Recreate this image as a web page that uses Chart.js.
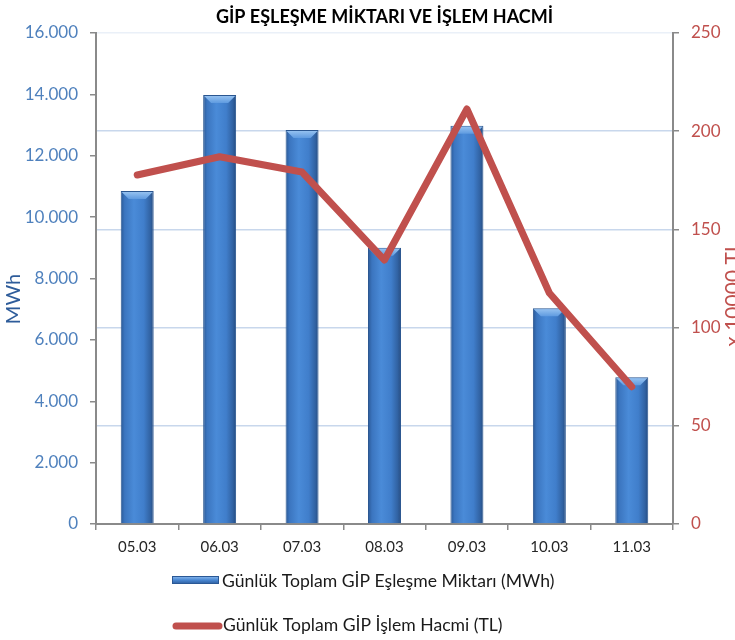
<!DOCTYPE html>
<html><head><meta charset="utf-8">
<script src="https://cdn.jsdelivr.net/npm/chart.js@4.4.1/dist/chart.umd.min.js"></script>
<style>html,body{margin:0;padding:0;background:#fff;} canvas{display:block;}</style>
</head><body>
<canvas id="c" width="735" height="640"></canvas>
<script>
// ---- data ----
const categories = ['05.03', '06.03', '07.03', '08.03', '09.03', '10.03', '11.03'];
const matchedVolumeMWh = [10850, 13980, 12840, 9000, 12980, 7030, 4780];
const tradeVolumeTL10k = [177.7, 187.0, 179.2, 134.4, 211.3, 117.6, 69.9];
const leftTickLabels = ['0', '2.000', '4.000', '6.000', '8.000', '10.000', '12.000', '14.000', '16.000'];
const rightTickLabels = ['0', '50', '100', '150', '200', '250'];
const seriesLabels = ['Günlük Toplam GİP Eşleşme Miktarı (MWh)', 'Günlük Toplam GİP İşlem Hacmi (TL)'];
const chartTitle = 'GİP EŞLEŞME MİKTARI VE İŞLEM HACMİ';
const leftAxisTitle = 'MWh';
const rightAxisTitle = 'x 10000 TL';

// ---- styles ----
const FONT = 'Lato, "Open Sans", sans-serif';
const BLUE_TICK = '#4F81BD';
const BLUE_TITLE = '#2E5C9A';
const RED = '#C0504D';
const AXIS_GREY = '#8a8a8a';
const GRID_BLUE = '#c8d7ec';

Chart.defaults.font.family = FONT;

function barGradient(ctx) {
  const chart = ctx.chart;
  if (ctx.type !== 'data' || !chart.chartArea) return '#3f78c2';
  const xs = chart.scales.x;
  const cx = xs.getPixelForValue(ctx.dataIndex);
  const half = (xs.width / categories.length) * 0.4 / 2;
  const g = chart.ctx.createLinearGradient(cx - half, 0, cx + half, 0);
  g.addColorStop(0, '#2a5895');
  g.addColorStop(0.12, '#3b75bf');
  g.addColorStop(0.4, '#4a8bd8');
  g.addColorStop(0.7, '#407ecb');
  g.addColorStop(0.9, '#3162a2');
  g.addColorStop(1, '#244b80');
  return g;
}

// bevel highlight on bar tops, using element geometry from the library
const bevelPlugin = {
  id: 'bevel',
  afterDatasetDraw(chart, args) {
    if (args.index !== 0) return;
    const c = chart.ctx;
    args.meta.data.forEach(el => {
      const p = el.getProps(['x', 'y', 'width', 'base'], true);
      const l = p.x - p.width / 2, r = p.x + p.width / 2, t = p.y;
      const d = Math.min(8, p.width / 4);
      c.save();
      const g = c.createLinearGradient(0, t, 0, t + d);
      g.addColorStop(0, '#9cc6f2');
      g.addColorStop(1, '#5f9be0');
      c.fillStyle = g;
      c.beginPath();
      c.moveTo(l + 1, t + 1); c.lineTo(r - 1, t + 1); c.lineTo(r - d, t + d); c.lineTo(l + d, t + d); c.closePath();
      c.fill();
      c.restore();
    });
  }
};

// axis titles + legend drawn as canvas text
const decoPlugin = {
  id: 'deco',
  afterDraw(chart) {
    const c = chart.ctx;
    const a = chart.chartArea;
    c.save();
    c.font = '20px ' + FONT;
    c.fillStyle = BLUE_TITLE;
    c.textAlign = 'center';
    c.textBaseline = 'middle';
    c.translate(14, 299);
    c.rotate(-Math.PI / 2);
    c.fillText(leftAxisTitle, 0, 0);
    c.restore();

    c.save();
    c.font = '21px ' + FONT;
    c.fillStyle = RED;
    c.textAlign = 'center';
    c.textBaseline = 'alphabetic';
    c.translate(740, 294);
    c.rotate(-Math.PI / 2);
    c.fillText(rightAxisTitle, 0, 0);
    c.restore();

    // legend
    const lx = a.left + 76;
    const y1 = a.bottom + 56;
    const y2 = a.bottom + 102;
    c.save();
    const g = c.createLinearGradient(0, y1 - 4, 0, y1 + 4);
    g.addColorStop(0, '#8fbdf0');
    g.addColorStop(0.5, '#4a88d2');
    g.addColorStop(1, '#2c5c9c');
    c.fillStyle = g;
    c.fillRect(lx, y1 - 4, 47, 8);
    c.strokeStyle = '#2a5895';
    c.lineWidth = 1;
    c.strokeRect(lx + 0.5, y1 - 3.5, 46, 7);

    c.strokeStyle = RED;
    c.lineWidth = 7;
    c.lineCap = 'round';
    c.beginPath();
    c.moveTo(lx + 4, y2); c.lineTo(lx + 47, y2);
    c.stroke();

    c.font = '17.6px ' + FONT;
    c.fillStyle = '#1a1a1a';
    c.textAlign = 'left';
    c.textBaseline = 'middle';
    c.fillText(seriesLabels[0], lx + 50, y1 + 1);
    c.fillText(seriesLabels[1], lx + 51, y2 - 1);
    c.restore();
  }
};

new Chart(document.getElementById('c'), {
  type: 'bar',
  data: {
    labels: categories,
    datasets: [
      {
        type: 'bar',
        label: seriesLabels[0],
        data: matchedVolumeMWh,
        yAxisID: 'y',
        backgroundColor: barGradient,
        borderColor: '#2a5690',
        borderWidth: 1,
        barPercentage: 0.4,
        categoryPercentage: 1,
        order: 2
      },
      {
        type: 'line',
        label: seriesLabels[1],
        data: tradeVolumeTL10k,
        yAxisID: 'y1',
        borderColor: RED,
        backgroundColor: RED,
        borderWidth: 7,
        borderCapStyle: 'round',
        borderJoinStyle: 'round',
        pointRadius: 0,
        tension: 0,
        fill: false,
        order: 1
      }
    ]
  },
  options: {
    responsive: false,
    animation: false,
    layout: { padding: { left: 0, right: 0, top: 0, bottom: 76 } },
    plugins: {
      legend: { display: false },
      tooltip: { enabled: false },
      title: {
        display: true,
        text: chartTitle,
        fullSize: false,
        color: '#000',
        font: { size: 18, weight: 'bold', family: FONT },
        padding: { top: 6.2, bottom: 5.2 }
      }
    },
    scales: {
      x: {
        grid: { display: true, drawOnChartArea: false, drawTicks: true, tickLength: 6, tickColor: AXIS_GREY, offset: true, lineWidth: 1.5 },
        border: { color: AXIS_GREY, width: 2 },
        ticks: { color: '#262626', font: { size: 15 }, padding: 8, maxRotation: 0 },
        afterFit: s => { s.height = 40; }
      },
      y: {
        position: 'left',
        min: 0, max: 16000,
        ticks: { stepSize: 2000, color: BLUE_TICK, font: { size: 17 }, padding: 12,
                 callback: (v, i) => leftTickLabels[i] },
        grid: { drawOnChartArea: false, drawTicks: true, tickLength: 6, tickColor: AXIS_GREY, lineWidth: 1.5 },
        border: { color: AXIS_GREY, width: 2 },
        afterFit: s => { s.width = 96; }
      },
      y1: {
        position: 'right',
        min: 0, max: 250,
        ticks: { stepSize: 50, color: RED, font: { size: 17 }, padding: 12,
                 callback: (v, i) => rightTickLabels[i] },
        grid: {
          drawOnChartArea: true, drawTicks: true, tickLength: 6,
          tickColor: AXIS_GREY,
          color: c => (c.index === rightTickLabels.length - 1 ? '#eaf0f8' : GRID_BLUE),
          lineWidth: 1.5
        },
        border: { color: AXIS_GREY, width: 2 },
        afterFit: s => { s.width = 62; }
      }
    }
  },
  plugins: [bevelPlugin, decoPlugin]
});
</script>
</body></html>
